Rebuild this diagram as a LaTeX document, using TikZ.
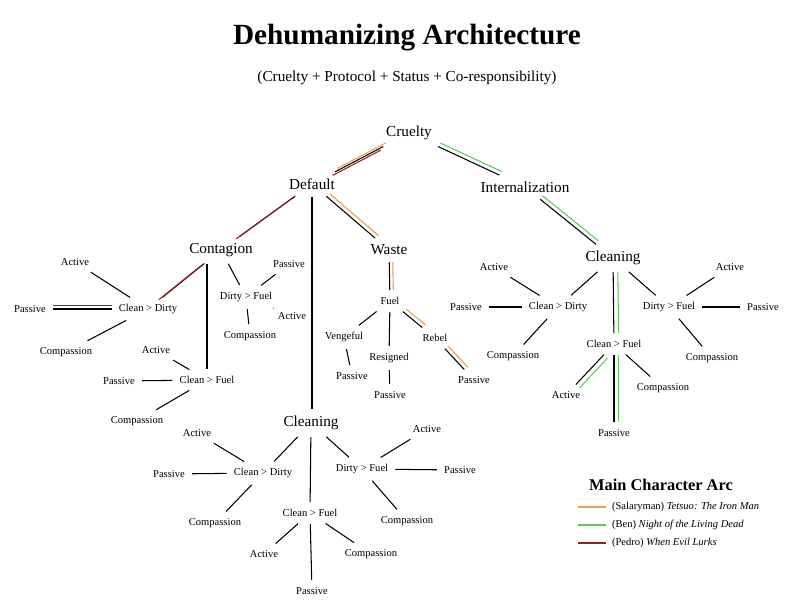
\documentclass[tikz,border=0pt]{standalone}
\usepackage{fontspec}
\setmainfont{Liberation Serif}
\definecolor{salary}{RGB}{228,160,80}
\definecolor{ben}{RGB}{95,200,90}
\definecolor{pedro}{RGB}{150,30,35}
\begin{document}
\begin{tikzpicture}[x=0.03cm,y=-0.03cm]
    \tikzstyle{main}  = [font=\fontsize{13}{15}\selectfont, inner sep=5pt]
    \tikzstyle{sub}   = [font=\fontsize{9}{11}\selectfont, inner sep=5pt]
    \tikzstyle{edge}  = [line width=0.9pt, shorten <=1pt, shorten >=1pt]
    \tikzstyle{arcS}  = [edge, draw=salary]
    \tikzstyle{arcB}  = [edge, draw=ben]
    \tikzstyle{arcP}  = [edge, draw=pedro]
    \useasboundingbox (0,0) rectangle (802,609);
    % titles
    \node (title) at (407,38) {\fontsize{25}{28}\selectfont\bfseries Dehumanizing Architecture};
    \node (subt) at (407,78) {\fontsize{13}{15}\selectfont (Cruelty + Protocol + Status + Co-responsibility)};
    % upper tree
    \node (cru) [main] at (409,133) {Cruelty};
    \node (def) [main] at (312,184) {Default};
    \node (int) [main] at (525,187) {Internalization};
    \node (con) [main] at (221,250) {Contagion};
    \node (was) [main] at (389,250) {Waste};
    \node (clR) [main] at (613,258) {Cleaning};
    \node (clB) [main] at (311,423) {Cleaning};
    % contagion branch
    \node (cdL)  [sub] at (148,309) {Clean > Dirty};
    \node (cdLa) [sub] at (75,262)  {Active};
    \node (cdLp) [sub] at (30,309)  {Passive};
    \node (cdLc) [sub] at (66,352)  {Compassion};
    \node (dfL)  [sub] at (246,297) {Dirty > Fuel};
    \node (dfLp) [sub] at (289,264) {Passive};
    \node (dfLa) [sub] at (292,316) {Active};
    \node (dfLc) [sub] at (250,336) {Compassion};
    \node (cfL)  [sub] at (207,380) {Clean > Fuel};
    \node (cfLa) [sub] at (156,350) {Active};
    \node (cfLp) [sub] at (119,381) {Passive};
    \node (cfLc) [sub] at (137,421) {Compassion};
    % waste branch
    \node (fue)  [sub] at (390,301) {Fuel};
    \node (ven)  [sub] at (344,337) {Vengeful};
    \node (res)  [sub] at (389,358) {Resigned};
    \node (reb)  [sub] at (435,338) {Rebel};
    \node (venp) [sub] at (352,376) {Passive};
    \node (resp) [sub] at (390,395) {Passive};
    \node (rebp) [sub] at (474,380) {Passive};
    % internalization branch
    \node (cdR)  [sub] at (558,307) {Clean > Dirty};
    \node (cdRa) [sub] at (494,267) {Active};
    \node (cdRp) [sub] at (466,307) {Passive};
    \node (cdRc) [sub] at (513,356) {Compassion};
    \node (dfR)  [sub] at (669,307) {Dirty > Fuel};
    \node (dfRa) [sub] at (730,267) {Active};
    \node (dfRp) [sub] at (763,307) {Passive};
    \node (dfRc) [sub] at (712,358) {Compassion};
    \node (cfR)  [sub] at (614,344) {Clean > Fuel};
    \node (cfRa) [sub] at (566,395) {Active};
    \node (cfRc) [sub] at (663,388) {Compassion};
    \node (cfRp) [sub] at (614,433) {Passive};
    % bottom cleaning
    \node (cdB)  [sub] at (263,473) {Clean > Dirty};
    \node (cdBa) [sub] at (197,433) {Active};
    \node (cdBp) [sub] at (169,474) {Passive};
    \node (cdBc) [sub] at (215,523) {Compassion};
    \node (dfB)  [sub] at (362,469) {Dirty > Fuel};
    \node (dfBa) [sub] at (427,429) {Active};
    \node (dfBp) [sub] at (460,470) {Passive};
    \node (dfBc) [sub] at (407,521) {Compassion};
    \node (cfB)  [sub] at (310,513) {Clean > Fuel};
    \node (cfBa) [sub] at (264,554) {Active};
    \node (cfBc) [sub] at (371,554) {Compassion};
    \node (cfBp) [sub] at (312,591) {Passive};
    % black connectors
    \foreach \a/\b in {cru/def, cru/int, def/con, def/was, int/clR,
        con/cdL, cdL/cdLa, cdL/cdLp, cdL/cdLc, con/dfL, dfL/dfLp, dfL/dfLa, dfL/dfLc,
        cfL/cfLa, cfL/cfLp, cfL/cfLc,
        was/fue, fue/ven, fue/res, fue/reb, ven/venp, res/resp, reb/rebp,
        clR/cdR, cdR/cdRa, cdR/cdRp, cdR/cdRc, clR/dfR, dfR/dfRa, dfR/dfRp, dfR/dfRc,
        clR/cfR, cfR/cfRa, cfR/cfRc, cfR/cfRp,
        clB/cdB, cdB/cdBa, cdB/cdBp, cdB/cdBc, clB/dfB, dfB/dfBa, dfB/dfBp, dfB/dfBc,
        clB/cfB, cfB/cfBa, cfB/cfBc, cfB/cfBp}
        \draw[edge] (\a) -- (\b);
    \draw[edge] (def) -- (def |- clB.north);
    \draw[edge] (cfL |- con.south) -- (cfL);
    % character arcs
    \draw[arcP, transform canvas={shift={(-2pt,-3pt)}}] (cru) -- (def);
    \draw[arcS, transform canvas={shift={(2pt,3pt)}}] (cru) -- (def);
    \draw[arcP, transform canvas={shift={(-3pt,-2pt)}}] (def) -- (con);
    \draw[arcP, transform canvas={shift={(-3pt,-2pt)}}] (con) -- (cdL);
    \draw[arcP, transform canvas={shift={(0pt,3pt)}}] (cdL) -- (cdLp);
    \draw[arcS, transform canvas={shift={(3pt,2pt)}}] (def) -- (was);
    \draw[arcS, transform canvas={shift={(3pt,0pt)}}] (was) -- (fue);
    \draw[arcS, transform canvas={shift={(3pt,2pt)}}] (fue) -- (reb);
    \draw[arcS, transform canvas={shift={(3pt,2pt)}}] (reb) -- (rebp);
    \draw[arcB, transform canvas={shift={(2pt,3pt)}}] (cru) -- (int);
    \draw[arcB, transform canvas={shift={(2pt,3pt)}}] (int) -- (clR);
    \draw[arcB, transform canvas={shift={(4pt,0pt)}}] (clR) -- (cfR);
    \draw[arcB, transform canvas={shift={(3pt,-3pt)}}] (cfR) -- (cfRa);
    \draw[arcB, transform canvas={shift={(4pt,0pt)}}] (cfR) -- (cfRp);
    % legend
    \node (leg) at (661,485) {\fontsize{14}{16}\selectfont\bfseries Main Character Arc};
    \node (legS) [sub, anchor=west] at (606,507) {(Salaryman) \textit{Tetsuo: The Iron Man}};
    \node (legB) [sub, anchor=west] at (606,525) {(Ben) \textit{Night of the Living Dead}};
    \node (legP) [sub, anchor=west] at (606,543) {(Pedro) \textit{When Evil Lurks}};
    \coordinate (lS) at (578,507);
    \coordinate (lB) at (578,525);
    \coordinate (lP) at (578,543);
    \draw[draw=salary, line width=0.9pt] (lS) -- (legS.west);
    \draw[draw=ben, line width=0.9pt] (lB) -- (legB.west);
    \draw[draw=pedro, line width=0.9pt] (lP) -- (legP.west);
\end{tikzpicture}
\end{document}
